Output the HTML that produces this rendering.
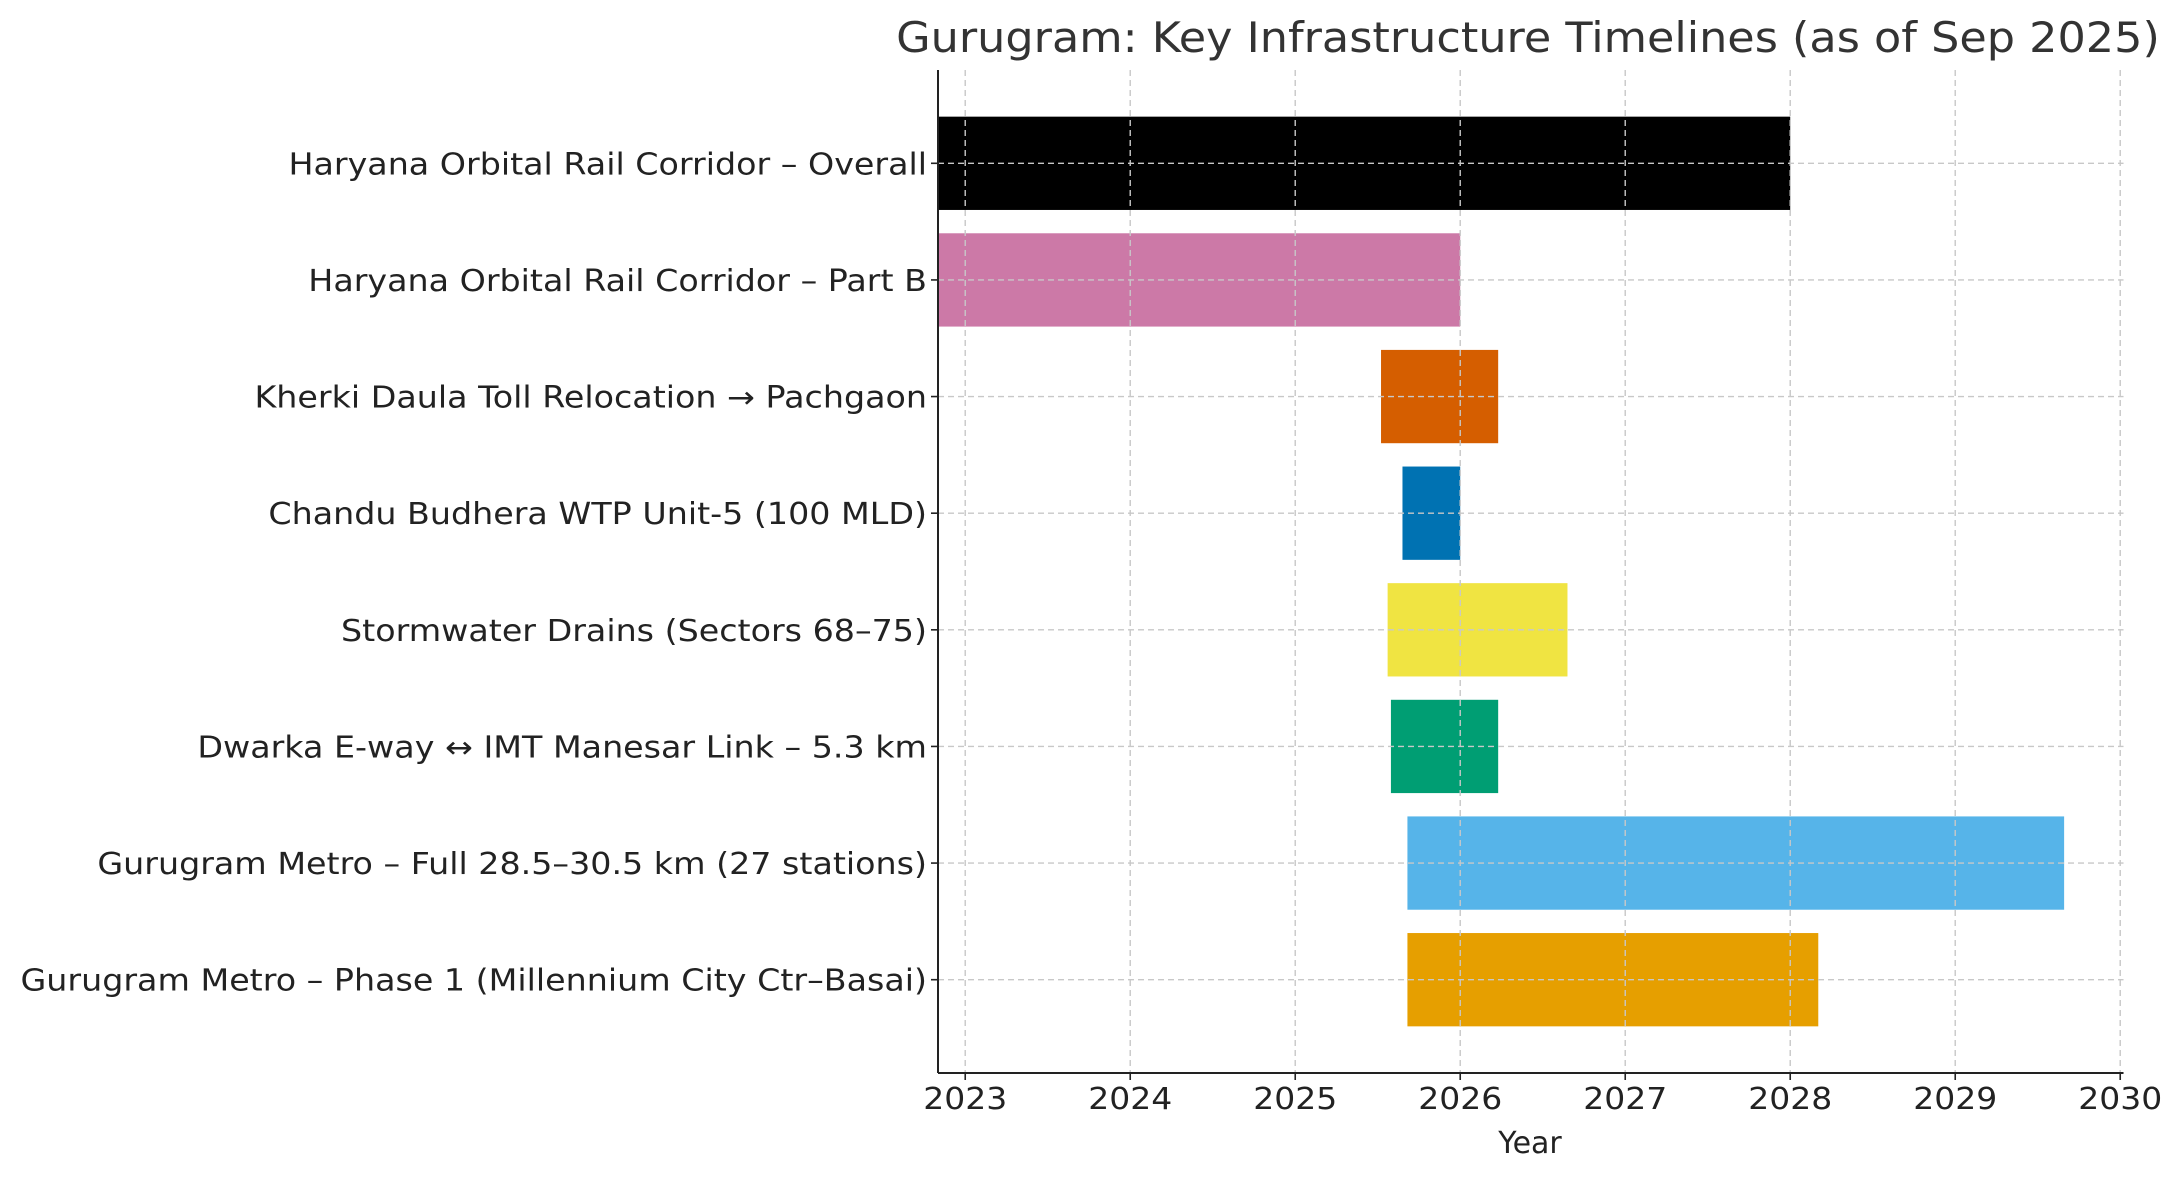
<!DOCTYPE html>
<html><head><meta charset="utf-8"><style>
html,body{margin:0;padding:0;background:#fff}
svg{display:block;font-family:"DejaVu Sans","Liberation Sans",sans-serif}
</style></head><body>
<svg id="chart" width="2181" height="1180" viewBox="0 0 2181 1180">
<text id="title" x="1528" y="52" text-anchor="middle" font-size="42" fill="#333">Gurugram: Key Infrastructure Timelines (as of Sep 2025)</text>
<g id="grid"></g>
<g id="bars"></g>
<g id="axes"></g>
<text x="1530" y="1153" text-anchor="middle" font-size="30" fill="#222">Year</text>
</svg>
<script>
const categories = ["Haryana Orbital Rail Corridor – Overall","Haryana Orbital Rail Corridor – Part B","Kherki Daula Toll Relocation → Pachgaon","Chandu Budhera WTP Unit-5 (100 MLD)","Stormwater Drains (Sectors 68–75)","Dwarka E-way ↔ IMT Manesar Link – 5.3 km","Gurugram Metro – Full 28.5–30.5 km (27 stations)","Gurugram Metro – Phase 1 (Millennium City Ctr–Basai)"];
const startYears = [2022.5,2022.5,2025.52,2025.65,2025.56,2025.58,2025.68,2025.68];
const endYears = [2028.0,2026.0,2026.23,2026.0,2026.65,2026.23,2029.66,2028.17];
const barColors = ["#000000","#CC79A7","#D55E00","#0072B2","#F0E442","#009E73","#56B4E9","#E69F00"];
const xTicks = [2023,2024,2025,2026,2027,2028,2029,2030];

const NS="http://www.w3.org/2000/svg";
const L=938,XMIN=2022.835,XMAX=2030.02,YW=165,R=L+(XMAX-XMIN)*YW,T=70,B=1073,YMIN=-0.8,YMAX=7.8;
function x(v){return L+(v-XMIN)*YW;}
function y(i){return T+(i-YMIN)/(YMAX-YMIN)*(B-T);}
function mk(tag,attrs,parent){const e=document.createElementNS(NS,tag);for(const k in attrs)e.setAttribute(k,attrs[k]);parent.appendChild(e);return e;}
function stretch(el,f){const w=el.getComputedTextLength();el.setAttribute('textLength',w*f);el.setAttribute('lengthAdjust','spacingAndGlyphs');}
const grid=document.getElementById('grid'),bars=document.getElementById('bars'),axes=document.getElementById('axes');
stretch(document.getElementById('title'),1.06);
xTicks.forEach(t=>{
  const g=mk('line',{x1:x(t),x2:x(t),y1:T,y2:B,stroke:"#c8c8c8","stroke-width":1.4,"stroke-dasharray":"6,4"},grid);
  
  
  const tk=mk('line',{x1:x(t),x2:x(t),y1:B,y2:B+7,stroke:"#222","stroke-width":1.6},axes);
  
  
  const tl=mk('text',{x:x(t),y:B+36,"text-anchor":"middle","font-size":30,fill:"#222"},axes);
  tl.textContent=t;
  
  
  stretch(tl,1.1);
});
categories.forEach((c,i)=>{
  const yc=y(i),h=0.8*(y(1)-y(0));
  const x0=Math.max(x(startYears[i]),L);
  const r=mk('rect',{x:x0,y:yc-h/2,width:x(endYears[i])-x0,height:h,fill:barColors[i]},bars);
  
  
  const g=mk('line',{x1:L,x2:R,y1:yc,y2:yc,stroke:"#c8c8c8","stroke-width":1.4,"stroke-dasharray":"6,4"},grid);
  
  
  const tk=mk('line',{x1:L-7,x2:L,y1:yc,y2:yc,stroke:"#222","stroke-width":1.6},axes);
  
  
  const tl=mk('text',{x:L-11,y:yc+11,"text-anchor":"end","font-size":30,fill:"#222"},axes);
  tl.textContent=c;
  
  
  stretch(tl,1.11);
});
bars.parentNode.insertBefore(grid,bars.nextSibling);
const ax1=mk('line',{x1:L,x2:L,y1:T,y2:B,stroke:"#222","stroke-width":2},axes);


const ax2=mk('line',{x1:L,x2:R,y1:B,y2:B,stroke:"#222","stroke-width":2},axes);


</script>
</body></html>
